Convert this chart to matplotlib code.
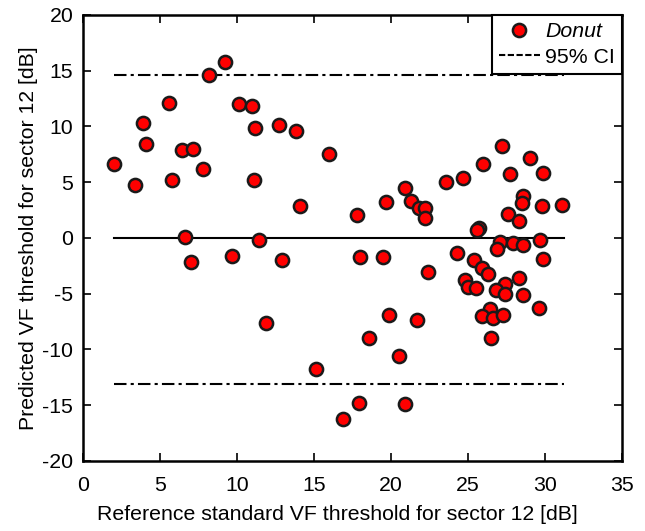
import matplotlib
matplotlib.use('Agg')
import matplotlib.pyplot as plt
from matplotlib.lines import Line2D
import numpy as np

plt.rcParams.update({
    'font.family': ['Liberation Sans', 'DejaVu Sans'],
    'font.size': 15.3,
    'axes.unicode_minus': False,
})

# reference standard threshold [dB]
ref_x = [2.0, 3.4, 3.9, 4.1, 5.6, 5.8, 6.4, 7.15, 6.6, 7.0, 7.8, 8.2, 9.2, 9.7,
         10.1, 11.0, 11.2, 11.1, 11.4, 11.9, 12.7, 12.9, 13.85, 14.1, 15.1, 15.96,
         17.8, 19.7, 20.9, 21.3, 21.8, 22.2, 22.2, 23.6, 24.7, 26.0, 27.2, 27.7,
         29.0, 29.9, 28.6, 28.5, 29.8, 31.1, 27.6, 28.3, 25.7, 25.6,
         29.7, 27.1, 27.9, 28.6, 26.9, 29.9, 18.0, 19.5, 24.3, 25.4, 22.4, 25.9,
         26.3, 24.8, 25.0, 25.5, 27.4, 28.3, 26.8, 27.4, 28.6, 29.6, 26.4, 25.9,
         26.6, 27.3, 26.5, 19.9, 21.7, 18.6, 20.5, 17.9, 20.9, 16.9]
# predicted threshold [dB]
pred_y = [6.6, 4.7, 10.3, 8.4, 12.1, 5.2, 7.9, 8.0, 0.1, -2.2, 6.2, 14.6, 15.8, -1.6,
          12.0, 11.8, 9.85, 5.15, -0.2, -7.6, 10.15, -2.0, 9.6, 2.9, -11.8, 7.5,
          2.05, 3.2, 4.5, 3.3, 2.7, 2.65, 1.8, 5.0, 5.4, 6.6, 8.2, 5.7,
          7.2, 5.8, 3.8, 3.1, 2.9, 2.95, 2.1, 1.5, 0.9, 0.7,
          -0.2, -0.4, -0.5, -0.6, -1.0, -1.9, -1.7, -1.7, -1.4, -2.0, -3.1, -2.7,
          -3.2, -3.8, -4.4, -4.5, -4.1, -3.6, -4.7, -5.0, -5.1, -6.3, -6.4, -7.0,
          -7.2, -6.9, -9.0, -6.9, -7.4, -9.0, -10.6, -14.8, -14.9, -16.2]

line_x = [2.0, 31.2]
mean_y = 0.0
ci_upper = 14.6
ci_lower = -13.1

fig = plt.figure(figsize=(6.45, 5.31), dpi=100)
ax = fig.add_axes([0.1287, 0.132, 0.8357, 0.840])

dashdot = (0, (6, 2, 1.5, 2))
ax.plot(line_x, [mean_y, mean_y], color='black', lw=1.5, zorder=1)
ax.plot(line_x, [ci_upper, ci_upper], color='black', lw=1.5,
        linestyle=dashdot, zorder=1)
ax.plot(line_x, [ci_lower, ci_lower], color='black', lw=1.5,
        linestyle=dashdot, zorder=1)
pts, = ax.plot(ref_x, pred_y, linestyle='none', marker='o', markersize=9.5,
               markerfacecolor='#ff0000', markeredgecolor='#1a1a1a',
               markeredgewidth=1.8, zorder=3)

ax.set_xlim(0, 35)
ax.set_ylim(-20, 20)
ax.set_xticks(np.arange(0, 36, 5))
ax.set_yticks(np.arange(-20, 21, 5))
ax.tick_params(direction='in', top=True, right=True, length=6, width=1.2,
               labelsize=15.3)
ax.tick_params(axis='x', pad=11)
ax.tick_params(axis='y', pad=7)
for s in ax.spines.values():
    s.set_linewidth(1.8)

ax.set_xlabel('Reference standard VF threshold for sector 12 [dB]', fontsize=15.3)
ax.xaxis.set_label_coords(0.472, -0.098)
ax.set_ylabel('Predicted VF threshold for sector 12 [dB]', fontsize=15.3,
              labelpad=3)

# legend handle for the CI lines, drawn dashed as in the figure
ci_handle = Line2D([], [], color='black', lw=1.5, linestyle=(0, (3, 1.2)))
leg = ax.legend([pts, ci_handle], ['Donut', '95% CI'], loc='upper right',
                fontsize=15.3, frameon=True, fancybox=False, framealpha=1,
                edgecolor='black', borderaxespad=0, handlelength=1.9,
                handletextpad=0.25, borderpad=0.35, labelspacing=0.3)
leg.get_frame().set_linewidth(1.5)
leg.get_texts()[0].set_fontstyle('italic')

fig.savefig('out.png', dpi=100)
